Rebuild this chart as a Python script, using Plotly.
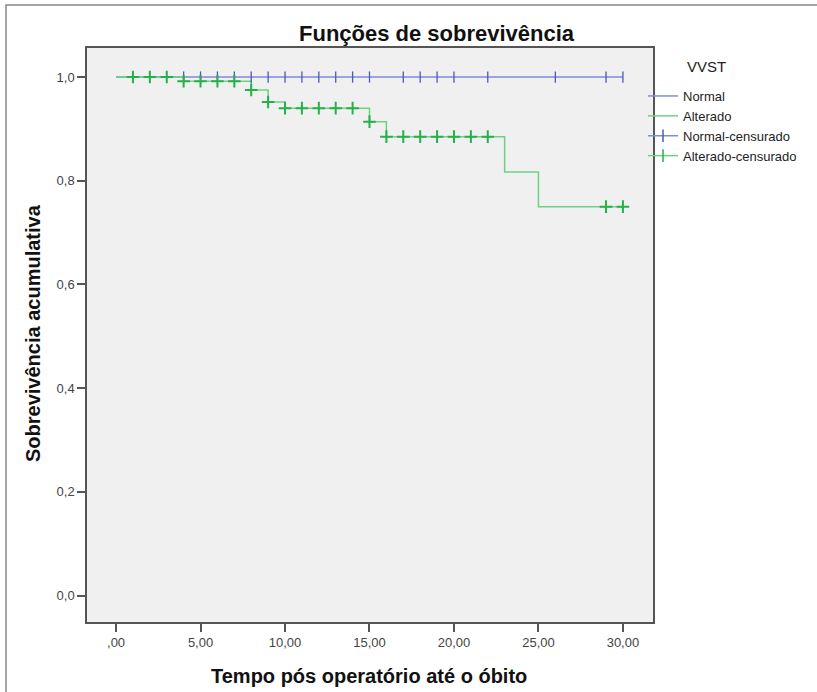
import numpy as np
import plotly.graph_objects as go

# ---- data ----
normal_times = [0, 30]
normal_surv = [1.0, 1.0]
normal_censored = [4, 5, 6, 7, 8, 9, 10, 11, 12, 13, 14, 15, 17, 18, 19, 20, 22, 26, 29, 30]

alt_times = [0, 4, 8, 9, 10, 15, 16, 23, 25, 30]
alt_surv = [1.0, 0.992, 0.975, 0.952, 0.940, 0.914, 0.885, 0.817, 0.750, 0.750]
alt_censored = [1, 2, 3, 4, 5, 6, 7, 8, 9, 10, 11, 12, 13, 14, 15, 16, 17, 18, 19, 20, 21, 22, 29, 30]

x_tickvals = [0, 5, 10, 15, 20, 25, 30]
x_ticktext = [",00", "5,00", "10,00", "15,00", "20,00", "25,00", "30,00"]
y_tickvals = [0.0, 0.2, 0.4, 0.6, 0.8, 1.0]
y_ticktext = ["0,0", "0,2", "0,4", "0,6", "0,8", "1,0"]


def step_value(times, surv, t):
    idx = np.searchsorted(np.array(times), t, side="right") - 1
    return float(np.array(surv)[idx])


normal_cens_y = [step_value(normal_times, normal_surv, t) for t in normal_censored]
alt_cens_y = [step_value(alt_times, alt_surv, t) for t in alt_censored]

BLUE_LINE = "#7d8fd0"
BLUE_MARK = "#4a5bb2"
GREEN_LINE = "#6fd283"
GREEN_MARK = "#26b04c"
FONT = "Liberation Sans, Arial, sans-serif"

fig = go.Figure()

fig.add_trace(go.Scatter(x=normal_times, y=normal_surv, mode="lines", line_shape="hv",
                         line=dict(color=BLUE_LINE, width=1.5), name="Normal"))
fig.add_trace(go.Scatter(x=alt_times, y=alt_surv, mode="lines", line_shape="hv",
                         line=dict(color=GREEN_LINE, width=1.5), name="Alterado"))
fig.add_trace(go.Scatter(x=normal_censored, y=normal_cens_y, mode="markers",
                         marker=dict(symbol="line-ns", size=8, line=dict(color=BLUE_MARK, width=1.3)),
                         showlegend=False, name="Normal-censurado"))
fig.add_trace(go.Scatter(x=alt_censored, y=alt_cens_y, mode="markers",
                         marker=dict(symbol="cross-thin", size=9, line=dict(color=GREEN_MARK, width=2)),
                         showlegend=False, name="Alterado-censurado"))
# legend-only entries for censored marks
fig.add_trace(go.Scatter(x=[None], y=[None], mode="lines+markers",
                         line=dict(color=BLUE_LINE, width=1.5),
                         marker=dict(symbol="line-ns", size=9, line=dict(color=BLUE_MARK, width=1.5)),
                         name="Normal-censurado"))
fig.add_trace(go.Scatter(x=[None], y=[None], mode="lines+markers",
                         line=dict(color=GREEN_LINE, width=1.5),
                         marker=dict(symbol="line-ns", size=9, line=dict(color=GREEN_MARK, width=1.5)),
                         name="Alterado-censurado"))

L, R, T, B = 87, 653, 48, 622
W, H = 817, 692


def px(xp):
    return (xp - L) / (R - L)


def py(yp):
    return (B - yp) / (B - T)


fig.update_layout(
    width=W, height=H,
    margin=dict(l=L, r=W - R, t=T, b=H - B, pad=0),
    paper_bgcolor="white",
    plot_bgcolor="#f0f0f0",
    font=dict(family=FONT, size=13, color="#444444"),
    showlegend=True,
    legend=dict(x=px(643), y=py(81), xanchor="left", yanchor="top",
                font=dict(family=FONT, size=13, color="#222222"),
                bgcolor="rgba(0,0,0,0)", tracegroupgap=0, itemwidth=30),
    xaxis=dict(range=[-1.72, 31.78], tickvals=x_tickvals, ticktext=x_ticktext,
               showgrid=False, zeroline=False, showline=True, mirror=True,
               linecolor="#555555", linewidth=1.5, ticks="outside", ticklen=8,
               tickcolor="#555555", tickwidth=1.5,
               tickfont=dict(family=FONT, size=13, color="#444444")),
    yaxis=dict(range=[-0.051, 1.056], tickvals=y_tickvals, ticktext=y_ticktext,
               showgrid=False, zeroline=False, showline=True, mirror=True,
               linecolor="#555555", linewidth=1.5, ticks="outside", ticklen=8,
               tickcolor="#555555", tickwidth=1.5,
               tickfont=dict(family=FONT, size=13, color="#444444")),
    annotations=[
        dict(text="<b>Funções de sobrevivência</b>", x=px(437), y=py(33), xref="paper", yref="paper",
             showarrow=False, xanchor="center", yanchor="middle",
             font=dict(family=FONT, size=22, color="#111111")),
        dict(text="<b>Tempo pós operatório até o óbito</b>", x=px(369), y=py(676), xref="paper",
             yref="paper", showarrow=False, xanchor="center", yanchor="middle",
             font=dict(family=FONT, size=20, color="#111111")),
        dict(text="<b>Sobrevivência acumulativa</b>", x=px(33), y=py(333), xref="paper",
             yref="paper", showarrow=False, xanchor="center", yanchor="middle", textangle=-90,
             font=dict(family=FONT, size=20, color="#111111")),
        dict(text="VVST", x=px(706), y=py(67), xref="paper", yref="paper", showarrow=False,
             xanchor="center", yanchor="middle",
             font=dict(family=FONT, size=15, color="#222222")),
    ],
    shapes=[
        dict(type="rect", xref="paper", yref="paper", x0=px(6), x1=px(830), y0=py(710), y1=py(5),
             line=dict(color="#888888", width=1.5), fillcolor="rgba(0,0,0,0)", layer="below"),
    ],
)

fig.write_html("out.html", config={"displayModeBar": False},
               post_script="document.body.style.margin='0';")
